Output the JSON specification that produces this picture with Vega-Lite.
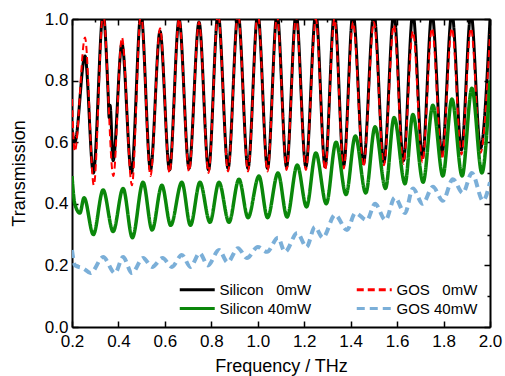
{
  "$schema": "https://vega.github.io/schema/vega-lite/v6.json",
  "width": 418,
  "height": 308,
  "autosize": {"type": "none"},
  "padding": {"left": 72, "top": 19, "right": 15, "bottom": 49},
  "background": "white",
  "config": {
    "view": {"stroke": null},
    "font": "Liberation Sans",
    "axis": {
      "grid": false,
      "domainColor": "black",
      "domainWidth": 2,
      "tickColor": "black",
      "tickWidth": 1.5,
      "labelColor": "black",
      "labelFont": "Liberation Sans",
      "labelFontSize": 17,
      "labelFlush": false,
      "labelOverlap": false,
      "titleFont": "Liberation Sans",
      "titleFontSize": 18,
      "titleFontWeight": "normal",
      "titleColor": "black",
      "tickSize": {"condition": {"test": "round(datum.value*10) % 2 === 0", "value": -6}, "value": -3}
    }
  },
  "data": {
    "values": [
      {"series":"Silicon 0mW","freq":0.200,"T":0.64},{"series":"Silicon 0mW","freq":0.212,"T":0.60},{"series":"Silicon 0mW","freq":0.256,"T":0.88},{"series":"Silicon 0mW","freq":0.292,"T":0.50},{"series":"Silicon 0mW","freq":0.334,"T":1.02},{"series":"Silicon 0mW","freq":0.356,"T":0.75},{"series":"Silicon 0mW","freq":0.360,"T":0.68},{"series":"Silicon 0mW","freq":0.364,"T":0.72},{"series":"Silicon 0mW","freq":0.377,"T":0.54},{"series":"Silicon 0mW","freq":0.415,"T":0.92},{"series":"Silicon 0mW","freq":0.456,"T":0.50},{"series":"Silicon 0mW","freq":0.497,"T":1.02},{"series":"Silicon 0mW","freq":0.538,"T":0.51},{"series":"Silicon 0mW","freq":0.579,"T":0.96},{"series":"Silicon 0mW","freq":0.620,"T":0.51},{"series":"Silicon 0mW","freq":0.661,"T":1.00},{"series":"Silicon 0mW","freq":0.704,"T":0.515},{"series":"Silicon 0mW","freq":0.747,"T":0.99},{"series":"Silicon 0mW","freq":0.788,"T":0.51},{"series":"Silicon 0mW","freq":0.829,"T":1.02},{"series":"Silicon 0mW","freq":0.872,"T":0.515},{"series":"Silicon 0mW","freq":0.915,"T":1.02},{"series":"Silicon 0mW","freq":0.958,"T":0.515},{"series":"Silicon 0mW","freq":1.000,"T":1.02},{"series":"Silicon 0mW","freq":1.042,"T":0.515},{"series":"Silicon 0mW","freq":1.083,"T":1.02},{"series":"Silicon 0mW","freq":1.124,"T":0.52},{"series":"Silicon 0mW","freq":1.165,"T":1.02},{"series":"Silicon 0mW","freq":1.207,"T":0.52},{"series":"Silicon 0mW","freq":1.250,"T":1.02},{"series":"Silicon 0mW","freq":1.290,"T":0.52},{"series":"Silicon 0mW","freq":1.330,"T":1.02},{"series":"Silicon 0mW","freq":1.370,"T":0.525},{"series":"Silicon 0mW","freq":1.410,"T":1.02},{"series":"Silicon 0mW","freq":1.455,"T":0.53},{"series":"Silicon 0mW","freq":1.500,"T":1.02},{"series":"Silicon 0mW","freq":1.543,"T":0.535},{"series":"Silicon 0mW","freq":1.586,"T":1.02},{"series":"Silicon 0mW","freq":1.627,"T":0.54},{"series":"Silicon 0mW","freq":1.668,"T":1.02},{"series":"Silicon 0mW","freq":1.709,"T":0.55},{"series":"Silicon 0mW","freq":1.750,"T":1.02},{"series":"Silicon 0mW","freq":1.793,"T":0.56},{"series":"Silicon 0mW","freq":1.836,"T":1.02},{"series":"Silicon 0mW","freq":1.877,"T":0.575},{"series":"Silicon 0mW","freq":1.918,"T":1.02},{"series":"Silicon 0mW","freq":1.959,"T":0.58},{"series":"Silicon 0mW","freq":2.000,"T":1.00},

      {"series":"GOS 0mW","freq":0.200,"T":0.74},{"series":"GOS 0mW","freq":0.212,"T":0.57},{"series":"GOS 0mW","freq":0.256,"T":0.94},{"series":"GOS 0mW","freq":0.294,"T":0.46},{"series":"GOS 0mW","freq":0.334,"T":1.02},{"series":"GOS 0mW","freq":0.378,"T":0.49},{"series":"GOS 0mW","freq":0.415,"T":0.94},{"series":"GOS 0mW","freq":0.458,"T":0.46},{"series":"GOS 0mW","freq":0.497,"T":1.02},{"series":"GOS 0mW","freq":0.538,"T":0.49},{"series":"GOS 0mW","freq":0.579,"T":0.97},{"series":"GOS 0mW","freq":0.620,"T":0.50},{"series":"GOS 0mW","freq":0.661,"T":1.00},{"series":"GOS 0mW","freq":0.704,"T":0.505},{"series":"GOS 0mW","freq":0.747,"T":0.99},{"series":"GOS 0mW","freq":0.788,"T":0.50},{"series":"GOS 0mW","freq":0.829,"T":1.02},{"series":"GOS 0mW","freq":0.872,"T":0.505},{"series":"GOS 0mW","freq":0.915,"T":1.02},{"series":"GOS 0mW","freq":0.958,"T":0.505},{"series":"GOS 0mW","freq":1.000,"T":1.02},{"series":"GOS 0mW","freq":1.042,"T":0.505},{"series":"GOS 0mW","freq":1.083,"T":1.01},{"series":"GOS 0mW","freq":1.124,"T":0.51},{"series":"GOS 0mW","freq":1.165,"T":1.01},{"series":"GOS 0mW","freq":1.207,"T":0.51},{"series":"GOS 0mW","freq":1.250,"T":1.00},{"series":"GOS 0mW","freq":1.290,"T":0.51},{"series":"GOS 0mW","freq":1.330,"T":1.00},{"series":"GOS 0mW","freq":1.370,"T":0.515},{"series":"GOS 0mW","freq":1.410,"T":0.99},{"series":"GOS 0mW","freq":1.455,"T":0.52},{"series":"GOS 0mW","freq":1.500,"T":0.99},{"series":"GOS 0mW","freq":1.543,"T":0.525},{"series":"GOS 0mW","freq":1.586,"T":0.98},{"series":"GOS 0mW","freq":1.627,"T":0.53},{"series":"GOS 0mW","freq":1.668,"T":0.96},{"series":"GOS 0mW","freq":1.709,"T":0.535},{"series":"GOS 0mW","freq":1.750,"T":0.97},{"series":"GOS 0mW","freq":1.793,"T":0.545},{"series":"GOS 0mW","freq":1.836,"T":0.97},{"series":"GOS 0mW","freq":1.877,"T":0.56},{"series":"GOS 0mW","freq":1.918,"T":0.97},{"series":"GOS 0mW","freq":1.959,"T":0.565},{"series":"GOS 0mW","freq":2.000,"T":0.95},

      {"series":"Silicon 40mW","freq":0.200,"T":0.49},{"series":"Silicon 40mW","freq":0.212,"T":0.40},{"series":"Silicon 40mW","freq":0.234,"T":0.37},{"series":"Silicon 40mW","freq":0.252,"T":0.42},{"series":"Silicon 40mW","freq":0.292,"T":0.30},{"series":"Silicon 40mW","freq":0.334,"T":0.445},{"series":"Silicon 40mW","freq":0.377,"T":0.31},{"series":"Silicon 40mW","freq":0.420,"T":0.45},{"series":"Silicon 40mW","freq":0.460,"T":0.29},{"series":"Silicon 40mW","freq":0.506,"T":0.47},{"series":"Silicon 40mW","freq":0.545,"T":0.315},{"series":"Silicon 40mW","freq":0.587,"T":0.46},{"series":"Silicon 40mW","freq":0.625,"T":0.33},{"series":"Silicon 40mW","freq":0.673,"T":0.47},{"series":"Silicon 40mW","freq":0.710,"T":0.33},{"series":"Silicon 40mW","freq":0.751,"T":0.47},{"series":"Silicon 40mW","freq":0.794,"T":0.34},{"series":"Silicon 40mW","freq":0.833,"T":0.47},{"series":"Silicon 40mW","freq":0.876,"T":0.34},{"series":"Silicon 40mW","freq":0.919,"T":0.48},{"series":"Silicon 40mW","freq":0.958,"T":0.355},{"series":"Silicon 40mW","freq":1.005,"T":0.49},{"series":"Silicon 40mW","freq":1.042,"T":0.355},{"series":"Silicon 40mW","freq":1.087,"T":0.50},{"series":"Silicon 40mW","freq":1.126,"T":0.357},{"series":"Silicon 40mW","freq":1.170,"T":0.526},{"series":"Silicon 40mW","freq":1.210,"T":0.39},{"series":"Silicon 40mW","freq":1.250,"T":0.565},{"series":"Silicon 40mW","freq":1.295,"T":0.40},{"series":"Silicon 40mW","freq":1.337,"T":0.60},{"series":"Silicon 40mW","freq":1.380,"T":0.43},{"series":"Silicon 40mW","freq":1.420,"T":0.62},{"series":"Silicon 40mW","freq":1.465,"T":0.435},{"series":"Silicon 40mW","freq":1.505,"T":0.65},{"series":"Silicon 40mW","freq":1.550,"T":0.45},{"series":"Silicon 40mW","freq":1.587,"T":0.68},{"series":"Silicon 40mW","freq":1.634,"T":0.465},{"series":"Silicon 40mW","freq":1.668,"T":0.69},{"series":"Silicon 40mW","freq":1.712,"T":0.47},{"series":"Silicon 40mW","freq":1.754,"T":0.72},{"series":"Silicon 40mW","freq":1.797,"T":0.49},{"series":"Silicon 40mW","freq":1.836,"T":0.74},{"series":"Silicon 40mW","freq":1.880,"T":0.49},{"series":"Silicon 40mW","freq":1.922,"T":0.775},{"series":"Silicon 40mW","freq":1.965,"T":0.50},{"series":"Silicon 40mW","freq":2.000,"T":0.80},

      {"series":"GOS 40mW","freq":0.200,"T":0.25},{"series":"GOS 40mW","freq":0.213,"T":0.20},{"series":"GOS 40mW","freq":0.250,"T":0.19},{"series":"GOS 40mW","freq":0.280,"T":0.175},{"series":"GOS 40mW","freq":0.334,"T":0.227},{"series":"GOS 40mW","freq":0.385,"T":0.175},{"series":"GOS 40mW","freq":0.420,"T":0.227},{"series":"GOS 40mW","freq":0.458,"T":0.175},{"series":"GOS 40mW","freq":0.506,"T":0.224},{"series":"GOS 40mW","freq":0.545,"T":0.195},{"series":"GOS 40mW","freq":0.590,"T":0.224},{"series":"GOS 40mW","freq":0.630,"T":0.195},{"series":"GOS 40mW","freq":0.673,"T":0.234},{"series":"GOS 40mW","freq":0.710,"T":0.195},{"series":"GOS 40mW","freq":0.750,"T":0.24},{"series":"GOS 40mW","freq":0.785,"T":0.20},{"series":"GOS 40mW","freq":0.833,"T":0.25},{"series":"GOS 40mW","freq":0.870,"T":0.21},{"series":"GOS 40mW","freq":0.915,"T":0.256},{"series":"GOS 40mW","freq":0.953,"T":0.224},{"series":"GOS 40mW","freq":1.000,"T":0.26},{"series":"GOS 40mW","freq":1.040,"T":0.244},{"series":"GOS 40mW","freq":1.087,"T":0.29},{"series":"GOS 40mW","freq":1.117,"T":0.244},{"series":"GOS 40mW","freq":1.170,"T":0.305},{"series":"GOS 40mW","freq":1.210,"T":0.26},{"series":"GOS 40mW","freq":1.246,"T":0.325},{"series":"GOS 40mW","freq":1.280,"T":0.29},{"series":"GOS 40mW","freq":1.333,"T":0.364},{"series":"GOS 40mW","freq":1.384,"T":0.315},{"series":"GOS 40mW","freq":1.420,"T":0.37},{"series":"GOS 40mW","freq":1.470,"T":0.347},{"series":"GOS 40mW","freq":1.505,"T":0.40},{"series":"GOS 40mW","freq":1.550,"T":0.347},{"series":"GOS 40mW","freq":1.590,"T":0.42},{"series":"GOS 40mW","freq":1.634,"T":0.37},{"series":"GOS 40mW","freq":1.668,"T":0.45},{"series":"GOS 40mW","freq":1.710,"T":0.40},{"series":"GOS 40mW","freq":1.754,"T":0.455},{"series":"GOS 40mW","freq":1.797,"T":0.41},{"series":"GOS 40mW","freq":1.840,"T":0.48},{"series":"GOS 40mW","freq":1.883,"T":0.435},{"series":"GOS 40mW","freq":1.922,"T":0.50},{"series":"GOS 40mW","freq":1.970,"T":0.41},{"series":"GOS 40mW","freq":2.000,"T":0.47}
    ]
  },
  "layer": [
    {
      "layer": [
        {
          "transform": [{"filter": "datum.series === 'Silicon 0mW'"}],
          "mark": {"type": "line", "interpolate": "monotone", "strokeWidth": 3, "clip": true},
          "encoding": {
            "x": {"field": "freq", "type": "quantitative", "scale": {"domain": [0.2, 2.0], "nice": false, "zero": false},
              "axis": {"orient": "bottom", "title": "Frequency / THz", "values": [0.2,0.3,0.4,0.5,0.6,0.7,0.8,0.9,1.0,1.1,1.2,1.3,1.4,1.5,1.6,1.7,1.8,1.9,2.0],
                "labelExpr": "round(datum.value*10) % 2 === 0 ? format(datum.value, '.1f') : ''", "labelPadding": 12, "titlePadding": 8}},
            "y": {"field": "T", "type": "quantitative", "scale": {"domain": [0, 1.0], "nice": false},
              "axis": {"orient": "left", "title": "Transmission", "values": [0,0.1,0.2,0.3,0.4,0.5,0.6,0.7,0.8,0.9,1.0],
                "labelExpr": "round(datum.value*10) % 2 === 0 ? format(datum.value, '.1f') : ''", "labelPadding": 10, "titlePadding": 16}},
            "color": {"field": "series", "type": "nominal",
              "scale": {"domain": ["Silicon 0mW", "Silicon 40mW", "GOS 0mW", "GOS 40mW"], "range": ["#000000", "#0a870a", "#ff0000", "#7bafd8"]},
              "legend": {"title": null, "orient": "none", "legendX": 106, "legendY": 260, "columns": 2, "columnPadding": 38, "rowPadding": 0, "padding": 0,
                "symbolType": "M-1,0H3", "symbolSize": 306, "symbolStrokeWidth": 3, "labelFontSize": 15, "labelFont": "Liberation Sans", "labelColor": "black", "labelOffset": 20.5,
                "labelExpr": "replace(datum.label, ' 0mW', '\u00a0\u00a0\u00a00mW')"}},
            "strokeDash": {"field": "series", "type": "nominal",
              "scale": {"domain": ["Silicon 0mW", "Silicon 40mW", "GOS 0mW", "GOS 40mW"], "range": [[1, 0], [1, 0], [7, 4], [8, 5]]},
              "legend": {"title": null, "orient": "none", "legendX": 106, "legendY": 260, "columns": 2, "columnPadding": 38, "rowPadding": 0, "padding": 0,
                "symbolType": "M-1,0H3", "symbolSize": 306, "symbolStrokeWidth": 3, "labelFontSize": 15, "labelFont": "Liberation Sans", "labelColor": "black", "labelOffset": 20.5,
                "labelExpr": "replace(datum.label, ' 0mW', '\u00a0\u00a0\u00a00mW')"}}
          }
        },
        {
          "transform": [{"filter": "datum.series === 'GOS 0mW'"}],
          "mark": {"type": "line", "interpolate": "monotone", "strokeWidth": 2, "clip": true},
          "encoding": {
            "x": {"field": "freq", "type": "quantitative"},
            "y": {"field": "T", "type": "quantitative"},
            "color": {"field": "series", "type": "nominal"},
            "strokeDash": {"field": "series", "type": "nominal"}
          }
        },
        {
          "transform": [{"filter": "datum.series === 'Silicon 40mW'"}],
          "mark": {"type": "line", "interpolate": "monotone", "strokeWidth": 3.5, "clip": true},
          "encoding": {
            "x": {"field": "freq", "type": "quantitative"},
            "y": {"field": "T", "type": "quantitative"},
            "color": {"field": "series", "type": "nominal"},
            "strokeDash": {"field": "series", "type": "nominal"}
          }
        }
      ]
    },
    {
      "transform": [{"filter": "datum.series === 'GOS 40mW'"}],
      "mark": {"type": "line", "interpolate": "monotone", "strokeWidth": 4, "clip": true},
      "encoding": {
        "x": {"field": "freq", "type": "quantitative",
          "axis": {"orient": "top", "title": null, "labels": false, "values": [0.2,0.3,0.4,0.5,0.6,0.7,0.8,0.9,1.0,1.1,1.2,1.3,1.4,1.5,1.6,1.7,1.8,1.9,2.0]}},
        "y": {"field": "T", "type": "quantitative",
          "axis": {"orient": "right", "title": null, "labels": false, "values": [0,0.1,0.2,0.3,0.4,0.5,0.6,0.7,0.8,0.9,1.0]}},
        "color": {"field": "series", "type": "nominal"},
        "strokeDash": {"field": "series", "type": "nominal"}
      }
    }
  ],
  "resolve": {"axis": {"x": "independent", "y": "independent"}}
}
